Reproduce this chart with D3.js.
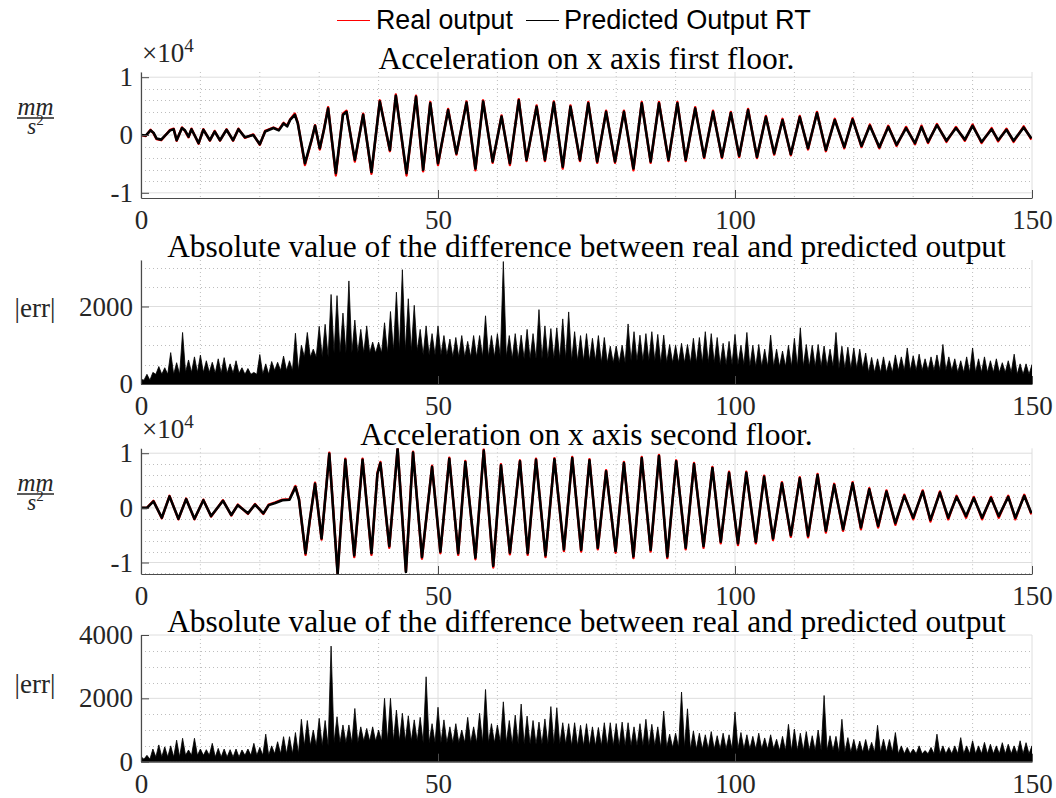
<!DOCTYPE html>
<html><head><meta charset="utf-8">
<script src="https://cdn.jsdelivr.net/npm/d3@7/dist/d3.min.js"></script>
<style>body{margin:0;background:#fff}svg{display:block}</style>
</head><body><svg id="c" width="1056" height="798"></svg>
<script>
// ---------------- DATA ----------------
const xTicks = [0, 50, 100, 150];
const titles = ["Acceleration on x axis first floor.",
  "Absolute value of the difference between real and predicted output",
  "Acceleration on x axis second floor.",
  "Absolute value of the difference between real and predicted output"];
const legendLabels = ["Real output", "Predicted Output RT"];

// first floor acceleration (x10^4 mm/s^2), local extrema
const t1 = [0,0.8,1.6,2.1,2.6,3.4,4.9,5.5,6.0,6.9,7.4,8.0,8.5,9.7,10.5,11.6,12.4,13.3,14.4,15.5,
16.4,17.5,18.9,20,20.9,22.3,23.2,24,24.6,25.1,25.9,26.4,27.6,28.7,29.3,30.1,30.8,31.5,32.8,34,
34.6,36,37.4,38.8,40.2,41.9,42.9,44.7,46.3,47.5,48.7,50,51.7,53.1,54.8,56.3,57.6,59.2,60.7,62.1,
63.6,64.9,66.6,68,69.5,71,72.3,73.9,75.3,76.8,78.3,79.8,81.3,82.9,84.3,85.8,87.2,88.8,90.3,91.7,
93.3,94.8,96.3,97.8,99.3,100.7,102.2,103.7,105.2,106.6,108,109.4,110.9,112.3,113.8,115.3,116.8,118.4,119.8,121.3,
122.7,124.3,125.8,127.2,128.8,130.3,131.4,132.5,134,135.6,137.2,138.7,140,141.5,143.2,144.3,145.7,146.9,148.6,149.9];
const pred1 = [0,-0.01,0.08,0.04,-0.06,-0.08,0.08,0.1,-0.09,0.12,0.08,-0.03,0.1,-0.14,0.09,-0.09,0.06,-0.09,0.09,-0.09,
0.1,-0.04,0,-0.16,0.06,0.12,0.08,0.2,0.15,0.26,0.35,0.2,-0.49,-0.09,0.16,-0.23,0.09,0.46,-0.66,0.35,
0.40,-0.43,0.35,-0.64,0.58,-0.26,0.68,-0.66,0.66,-0.6,0.55,-0.49,0.43,-0.32,0.56,-0.58,0.58,-0.46,0.32,-0.49,
0.60,-0.43,0.49,-0.43,0.56,-0.55,0.49,-0.43,0.55,-0.46,0.40,-0.46,0.40,-0.58,0.55,-0.46,0.55,-0.43,0.55,-0.43,
0.46,-0.38,0.40,-0.38,0.38,-0.36,0.43,-0.38,0.31,-0.32,0.26,-0.33,0.31,-0.23,0.38,-0.26,0.26,-0.21,0.27,-0.19,
0.16,-0.21,0.14,-0.17,0.12,-0.14,0.14,-0.12,0.17,-0.10,0.12,-0.08,0.16,-0.12,0.10,-0.09,0.09,-0.10,0.13,-0.06];
const real1 = [0,-0.02,0.09,0.03,-0.07,-0.09,0.09,0.11,-0.10,0.13,0.07,-0.04,0.11,-0.15,0.10,-0.10,0.07,-0.10,0.10,-0.10,
0.11,-0.05,0.01,-0.17,0.07,0.13,0.09,0.21,0.16,0.27,0.37,0.21,-0.52,-0.10,0.17,-0.25,0.10,0.48,-0.70,0.37,
0.42,-0.46,0.37,-0.67,0.60,-0.28,0.70,-0.70,0.68,-0.63,0.57,-0.52,0.45,-0.34,0.58,-0.61,0.60,-0.48,0.34,-0.52,
0.62,-0.45,0.51,-0.45,0.58,-0.58,0.51,-0.45,0.57,-0.48,0.42,-0.48,0.42,-0.61,0.57,-0.48,0.57,-0.45,0.57,-0.45,
0.48,-0.40,0.42,-0.40,0.40,-0.38,0.45,-0.40,0.33,-0.34,0.28,-0.35,0.33,-0.25,0.40,-0.28,0.28,-0.23,0.29,-0.21,
0.18,-0.23,0.16,-0.19,0.14,-0.16,0.16,-0.14,0.19,-0.12,0.14,-0.10,0.18,-0.14,0.12,-0.11,0.11,-0.12,0.15,-0.08];

// |err| first floor, one reading per second (t = 0..150) and solid floor level every 5 s
const errPeak1 = [120,250,300,450,420,810,550,1330,620,700,
745,600,560,650,680,520,600,420,400,300,
760,520,580,560,720,600,1310,1000,1330,900,
1490,1540,2310,2280,1830,2660,1650,1410,1500,1080,
1080,1580,1870,2370,2950,2200,2030,1410,1500,1300,
1500,1250,1160,1200,1250,1100,1250,1250,1760,1250,
1300,3160,1250,1300,1260,1410,1300,1920,1500,1430,
1450,1680,1860,1350,1250,1300,1180,1250,1200,975,
980,1000,1550,1350,1260,1300,1350,1280,1260,1020,
1000,1050,1020,1180,1200,1350,1300,1200,1050,1100,
1280,1000,1330,1000,1020,900,1260,900,850,1000,
1180,1450,1020,1000,1020,980,900,1330,975,950,
930,900,800,685,650,700,600,750,700,930,
730,770,650,700,750,1020,700,650,600,700,
930,650,700,600,650,550,600,770,520,520,
500];
const errBase1 = [100,250,300,280,250,350,700,800,800,850,750,700,700,650,650,600,550,600,550,550,500,450,450,450,400,300,350,350,300,300,250];

// second floor acceleration (x10^4 mm/s^2)
const t3 = [0,1.0,2.1,3.5,4.8,6.3,7.6,9.0,10.5,11.8,
13.8,15.2,16.3,18.0,19.2,20.6,21.5,22.6,23.8,25.0,
26,26.6,27.7,28.4,29.3,30.4,31.7,33.1,34.4,35.9,
37.3,38.8,39.8,40.3,41.8,43.2,44.6,45.8,47.3,49.0,
50.4,51.9,53.4,54.6,56.3,57.7,59.3,60.6,62.1,63.8,
65.1,66.5,68.1,69.6,71.2,72.6,74.1,75.5,76.9,78.3,
79.9,81.3,82.9,84.3,85.8,87.2,88.6,90.1,91.7,93.1,
94.7,96.2,97.6,99,100.5,101.9,103.5,104.9,106.4,107.9,
109.4,110.9,112.3,113.9,115.3,116.7,118.2,119.8,121.2,122.6,
124.1,125.5,127,128.5,130,131.6,132.9,134.5,135.9,137.3,
138.9,140.2,141.6,143.1,144.4,146,147.2,148.7,149.9];
const pred3 = [0,0,0.12,-0.18,0.21,-0.2,0.16,-0.2,0.14,-0.15,
0.13,-0.13,0.05,-0.1,0.06,-0.1,0.05,0.09,0.14,0.15,
0.38,0.15,-0.83,-0.23,0.44,-0.56,0.99,-1.21,0.88,-0.87,
0.88,-0.83,0.62,0.82,-0.70,1.08,-1.17,1.01,-0.90,0.75,
-0.80,0.90,-0.83,0.84,-0.91,1.05,-1.06,0.78,-0.82,0.85,
-0.83,0.88,-0.87,0.89,-0.76,0.91,-0.77,0.87,-0.73,0.67,
-0.79,0.82,-0.89,0.91,-0.77,0.95,-0.89,0.85,-0.73,0.80,
-0.70,0.73,-0.62,0.64,-0.65,0.64,-0.62,0.57,-0.56,0.45,
-0.50,0.54,-0.51,0.60,-0.42,0.42,-0.39,0.45,-0.36,0.34,
-0.33,0.30,-0.28,0.22,-0.18,0.30,-0.22,0.28,-0.18,0.20,
-0.15,0.18,-0.18,0.18,-0.15,0.20,-0.18,0.22,-0.10];
const real3 = [0,0,0.13,-0.19,0.22,-0.21,0.17,-0.21,0.15,-0.16,
0.14,-0.14,0.06,-0.11,0.07,-0.11,0.06,0.10,0.15,0.16,
0.40,0.16,-0.86,-0.25,0.46,-0.58,1.01,-1.20,0.90,-0.90,
0.90,-0.86,0.64,0.84,-0.73,1.09,-1.16,1.03,-0.93,0.77,
-0.83,0.92,-0.86,0.86,-0.94,1.07,-1.09,0.80,-0.85,0.87,
-0.86,0.90,-0.90,0.91,-0.79,0.93,-0.80,0.89,-0.76,0.69,
-0.82,0.84,-0.92,0.93,-0.80,0.97,-0.92,0.87,-0.76,0.82,
-0.73,0.75,-0.65,0.66,-0.68,0.66,-0.65,0.59,-0.59,0.47,
-0.53,0.56,-0.54,0.62,-0.45,0.44,-0.42,0.47,-0.39,0.36,
-0.36,0.32,-0.31,0.24,-0.21,0.32,-0.25,0.30,-0.21,0.22,
-0.18,0.20,-0.21,0.20,-0.18,0.22,-0.21,0.24,-0.12];

// |err| second floor
const errPeak2 = [160,200,400,530,470,500,680,740,370,740,
400,380,580,420,400,380,400,370,400,580,
450,870,500,630,790,790,920,1340,1300,1000,
1370,1300,3650,1420,1160,1160,1680,1100,1050,1100,
1000,2000,2000,1630,1530,1450,1320,1400,2680,1200,
1720,1320,1100,1200,1000,1400,1100,1530,2280,1200,
1160,1890,1300,1470,1820,1440,1300,1250,1350,1740,
1700,1230,1200,1230,1150,1200,1100,1080,1230,1230,
1200,1250,1230,1100,1200,1340,1180,1100,1600,870,
900,2200,1670,970,900,850,950,820,900,850,
1570,920,850,800,900,750,850,710,800,1180,
1030,900,950,820,1000,2090,820,800,1340,760,
700,650,700,610,1150,710,700,920,500,450,
400,500,350,450,870,500,450,500,760,500,
660,500,610,550,500,600,550,500,660,600,
500];
const errBase2 = [80,150,200,150,200,250,500,600,650,650,600,600,600,550,550,500,500,500,450,400,400,400,350,350,300,300,250,250,250,250,250];

// ---------------- LAYOUT ----------------
const X0 = 141, X1 = 1032;
const panels = [
  {top:72,  bottom:198, domain:[-1.09,1.09], ticks:[-1,0,1], minor:0.2, kind:"acc", ylab:"frac", labY:118},
  {top:260, bottom:384, domain:[0,3200], ticks:[0,2000], minor:500, kind:"err", ylab:"err", labY:308},
  {top:448.3, bottom:574, domain:[-1.21,1.09], ticks:[-1,0,1], minor:0.2, kind:"acc", ylab:"frac", labY:494},
  {top:635, bottom:761.7, domain:[0,4000], ticks:[0,2000,4000], minor:500, kind:"err", ylab:"err", labY:684}
];
const serif = "'Liberation Serif','Times New Roman',serif";
const sans = "'Liberation Sans',Arial,Helvetica,sans-serif";
const txtCol = "#262626";

const svg = d3.select("#c");
svg.append("rect").attr("width",1056).attr("height",798).attr("fill","#fff");
const x = d3.scaleLinear().domain([0,150]).range([X0, X1]);

function fitSize(sel, target) {
  const len = sel.node().getComputedTextLength();
  const fs = parseFloat(sel.attr("font-size"));
  return fs * target / len;
}

// title size measured from the long title
const probe = svg.append("text").attr("font-family", serif).attr("font-size", 24).text(titles[1]);
const titleSize = fitSize(probe, 839);
probe.remove();

const seriesA = [[t1, real1, pred1], null, [t3, real3, pred3], null];
const seriesE = [null, [errPeak1, errBase1], null, [errPeak2, errBase2]];

panels.forEach((p, i) => {
  const y = d3.scaleLinear().domain(p.domain).range([p.bottom, p.top]);
  const g = svg.append("g");
  // minor grid
  const xMinor = d3.range(0, 151, 10).filter(v => !xTicks.includes(v));
  const lo = Math.ceil(p.domain[0] / p.minor - 1e-6), hi = Math.floor(p.domain[1] / p.minor + 1e-6);
  const yMinor = d3.range(lo, hi + 1).map(k => k * p.minor).filter(v => !p.ticks.some(t => Math.abs(t - v) < 1e-6));
  g.selectAll(null).data(xMinor).join("line")
    .attr("x1", d => x(d)).attr("x2", d => x(d)).attr("y1", p.top).attr("y2", p.bottom)
    .attr("stroke", "#bdbdbd").attr("stroke-width", 1).attr("stroke-dasharray", "1,3");
  g.selectAll(null).data(yMinor).join("line")
    .attr("x1", X0).attr("x2", X1).attr("y1", d => Math.round(y(d)) + 0.5).attr("y2", d => Math.round(y(d)) + 0.5)
    .attr("stroke", "#bdbdbd").attr("stroke-width", 1).attr("stroke-dasharray", "1,3");
  // major grid
  g.selectAll(null).data(xTicks).join("line")
    .attr("x1", d => x(d)).attr("x2", d => x(d)).attr("y1", p.top).attr("y2", p.bottom)
    .attr("stroke", "#dedede").attr("stroke-width", 1);
  g.selectAll(null).data(p.ticks).join("line")
    .attr("x1", X0).attr("x2", X1).attr("y1", d => y(d)).attr("y2", d => y(d))
    .attr("stroke", "#dedede").attr("stroke-width", 1);

  // clip
  const cid = "clip" + i;
  svg.append("clipPath").attr("id", cid).append("rect")
    .attr("x", X0).attr("y", p.top).attr("width", X1 - X0).attr("height", p.bottom - p.top);
  const dg = g.append("g").attr("clip-path", `url(#${cid})`);

  if (p.kind === "acc") {
    const [tt, rr, pp] = seriesA[i];
    const line = d3.line().x(d => x(d[0])).y(d => y(d[1]));
    dg.append("path").datum(d3.zip(tt, rr)).attr("d", line)
      .attr("fill", "none").attr("stroke", "#ff0000").attr("stroke-width", 2.4).attr("stroke-linejoin", "round");
    dg.append("path").datum(d3.zip(tt, pp)).attr("d", line)
      .attr("fill", "none").attr("stroke", "#000").attr("stroke-width", 2.6).attr("stroke-linejoin", "round");
  } else {
    const [pk, bs] = seriesE[i];
    const pts = [[0, 0]];
    pk.forEach((v, k) => {
      pts.push([k, v]);
      if (k < pk.length - 1) pts.push([k + 0.5, bs[Math.round((k + 0.5) / 5)]]);
    });
    pts.push([150, 0]);
    const area = d3.area().x(d => x(d[0])).y0(y(0)).y1(d => y(d[1]));
    dg.append("path").datum(pts).attr("d", area).attr("fill", "#000")
      .attr("stroke", "#000").attr("stroke-width", 0.8).attr("stroke-linejoin", "miter");
  }

  // axes
  const ax = d3.axisBottom(x).tickValues(xTicks).tickFormat(d3.format("d")).tickSizeInner(-8).tickSizeOuter(0).tickPadding(12);
  const axg = svg.append("g").attr("transform", `translate(0,${p.bottom})`).call(ax);
  const ay = d3.axisLeft(y).tickValues(p.ticks).tickFormat(d => String(d)).tickSizeInner(-8).tickSizeOuter(0).tickPadding(8);
  const ayg = svg.append("g").attr("transform", `translate(${X0},0)`).call(ay);
  [axg, ayg].forEach(a => {
    a.select(".domain").attr("stroke", "#4a4a4a").attr("stroke-width", 1.2);
    a.selectAll(".tick line").attr("stroke", "#4a4a4a").attr("stroke-width", 1);
    a.selectAll(".tick text").attr("font-family", serif).attr("font-size", 27).attr("fill", txtCol);
  });

  // title
  svg.append("text").attr("x", (X0 + X1) / 2).attr("y", p.top - 3.5).attr("text-anchor", "middle")
    .attr("font-family", serif).attr("font-size", titleSize).attr("fill", "#000").text(titles[i]);

  // exponent label
  if (p.kind === "acc") {
    const e = svg.append("text").attr("x", X0 + 1).attr("y", p.top - 10)
      .attr("font-family", serif).attr("font-size", 27).attr("fill", txtCol);
    e.append("tspan").text("\u00d710");
    e.append("tspan").attr("font-size", 19).attr("dy", -10).text("4");
  }

  // y label
  if (p.ylab === "frac") {
    const cx = 35.5;
    svg.append("text").attr("x", cx).attr("y", p.labY - 3.5).attr("text-anchor", "middle")
      .attr("font-family", serif).attr("font-style", "italic").attr("font-size", 25).attr("fill", txtCol).text("mm");
    svg.append("line").attr("x1", 17).attr("x2", 54).attr("y1", p.labY).attr("y2", p.labY)
      .attr("stroke", txtCol).attr("stroke-width", 1.4);
    const s = svg.append("text").attr("x", cx).attr("y", p.labY + 16).attr("text-anchor", "middle")
      .attr("font-family", serif).attr("font-style", "italic").attr("font-size", 23).attr("fill", txtCol);
    s.append("tspan").text("s");
    s.append("tspan").attr("font-style", "normal").attr("font-size", 15).attr("dy", -9).text("2");
  } else {
    svg.append("text").attr("x", 35).attr("y", p.labY + 8.5).attr("text-anchor", "middle")
      .attr("font-family", serif).attr("font-size", 27).attr("fill", txtCol).text("|err|");
  }
});

// legend
const lg = svg.append("g");
const legendColors = ["#ff0000", "#000000"];
const legendX = [[337, 370, 376], [526, 559, 564]];
legendLabels.forEach((lab, k) => {
  lg.append("line").attr("x1", legendX[k][0]).attr("x2", legendX[k][1]).attr("y1", 20.5).attr("y2", 20.5)
    .attr("stroke", legendColors[k]).attr("stroke-width", 1.2);
  const t = lg.append("text").attr("x", legendX[k][2]).attr("y", 29.3)
    .attr("font-family", sans).attr("font-size", 24).attr("fill", "#000").text(lab);
  if (k === 0) t.attr("font-size", fitSize(t, 137));
  else t.attr("font-size", fitSize(t, 247));
});
</script>
</body></html>
